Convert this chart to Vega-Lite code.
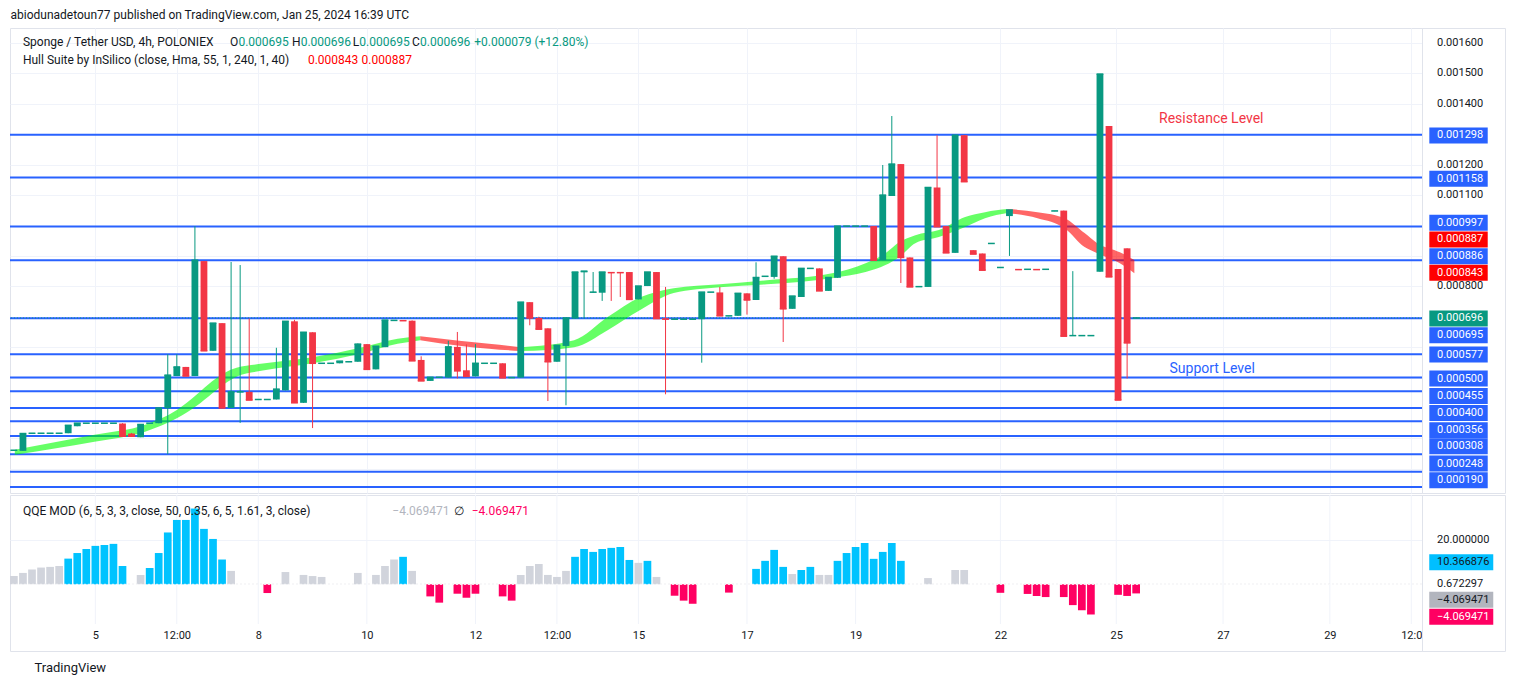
{
  "$schema": "https://vega.github.io/schema/vega-lite/v6.json",
  "padding": {"left": 8, "top": 8, "right": 10, "bottom": 4},
  "background": "white",
  "title": {"text": "abiodunadetoun77 published on TradingView.com, Jan 25, 2024 16:39 UTC", "anchor": "start", "fontSize": 12, "fontWeight": "normal", "font": "Roboto", "color": "#131722", "offset": 6, "dx": 2},
  "config": {"font": "Roboto", "view": {"stroke": "#E0E3EB"}},
  "datasets": {
    "candles": [
      {"i": -1, "o": 0.000260, "h": 0.000261, "l": 0.000260, "c": 0.000261},
      {"i": 0, "o": 0.000259, "h": 0.000316, "l": 0.000259, "c": 0.000316},
      {"i": 1, "o": 0.000316, "h": 0.000317, "l": 0.000316, "c": 0.000317},
      {"i": 2, "o": 0.000316, "h": 0.000317, "l": 0.000316, "c": 0.000317},
      {"i": 3, "o": 0.000316, "h": 0.000317, "l": 0.000316, "c": 0.000317},
      {"i": 4, "o": 0.000316, "h": 0.000317, "l": 0.000316, "c": 0.000317},
      {"i": 5, "o": 0.000317, "h": 0.000343, "l": 0.000317, "c": 0.000343},
      {"i": 6, "o": 0.000340, "h": 0.000350, "l": 0.000340, "c": 0.000350},
      {"i": 7, "o": 0.000349, "h": 0.000350, "l": 0.000349, "c": 0.000350},
      {"i": 8, "o": 0.000349, "h": 0.000350, "l": 0.000349, "c": 0.000350},
      {"i": 9, "o": 0.000349, "h": 0.000350, "l": 0.000349, "c": 0.000350},
      {"i": 10, "o": 0.000349, "h": 0.000350, "l": 0.000349, "c": 0.000350},
      {"i": 11, "o": 0.000349, "h": 0.000350, "l": 0.000307, "c": 0.000307},
      {"i": 12, "o": 0.000316, "h": 0.000318, "l": 0.000307, "c": 0.000307},
      {"i": 13, "o": 0.000304, "h": 0.000346, "l": 0.000304, "c": 0.000346},
      {"i": 14, "o": 0.000349, "h": 0.000350, "l": 0.000349, "c": 0.000350},
      {"i": 15, "o": 0.000350, "h": 0.000400, "l": 0.000350, "c": 0.000400},
      {"i": 16, "o": 0.000399, "h": 0.000577, "l": 0.000248, "c": 0.000508},
      {"i": 17, "o": 0.000505, "h": 0.000577, "l": 0.000505, "c": 0.000535},
      {"i": 18, "o": 0.000535, "h": 0.000535, "l": 0.000505, "c": 0.000505},
      {"i": 19, "o": 0.000505, "h": 0.000998, "l": 0.000505, "c": 0.000886},
      {"i": 20, "o": 0.000883, "h": 0.000883, "l": 0.000588, "c": 0.000588},
      {"i": 21, "o": 0.000588, "h": 0.000679, "l": 0.000588, "c": 0.000679},
      {"i": 22, "o": 0.000679, "h": 0.000679, "l": 0.000400, "c": 0.000400},
      {"i": 23, "o": 0.000400, "h": 0.000880, "l": 0.000400, "c": 0.000453},
      {"i": 24, "o": 0.000452, "h": 0.000870, "l": 0.000351, "c": 0.000453},
      {"i": 25, "o": 0.000453, "h": 0.000694, "l": 0.000426, "c": 0.000426},
      {"i": 26, "o": 0.000427, "h": 0.000428, "l": 0.000427, "c": 0.000428},
      {"i": 27, "o": 0.000427, "h": 0.000428, "l": 0.000427, "c": 0.000428},
      {"i": 28, "o": 0.000428, "h": 0.000598, "l": 0.000428, "c": 0.000462},
      {"i": 29, "o": 0.000458, "h": 0.000685, "l": 0.000458, "c": 0.000685},
      {"i": 30, "o": 0.000685, "h": 0.000690, "l": 0.000417, "c": 0.000417},
      {"i": 31, "o": 0.000417, "h": 0.000649, "l": 0.000417, "c": 0.000649},
      {"i": 32, "o": 0.000649, "h": 0.000649, "l": 0.000334, "c": 0.000547},
      {"i": 33, "o": 0.000546, "h": 0.000547, "l": 0.000546, "c": 0.000547},
      {"i": 34, "o": 0.000546, "h": 0.000547, "l": 0.000546, "c": 0.000547},
      {"i": 35, "o": 0.000547, "h": 0.000554, "l": 0.000547, "c": 0.000554},
      {"i": 36, "o": 0.000551, "h": 0.000552, "l": 0.000551, "c": 0.000552},
      {"i": 37, "o": 0.000552, "h": 0.000612, "l": 0.000552, "c": 0.000610},
      {"i": 38, "o": 0.000610, "h": 0.000610, "l": 0.000527, "c": 0.000527},
      {"i": 39, "o": 0.000527, "h": 0.000603, "l": 0.000527, "c": 0.000603},
      {"i": 40, "o": 0.000600, "h": 0.000689, "l": 0.000600, "c": 0.000689},
      {"i": 41, "o": 0.000687, "h": 0.000688, "l": 0.000687, "c": 0.000688},
      {"i": 42, "o": 0.000688, "h": 0.000688, "l": 0.000687, "c": 0.000687},
      {"i": 43, "o": 0.000687, "h": 0.000688, "l": 0.000555, "c": 0.000555},
      {"i": 44, "o": 0.000558, "h": 0.000570, "l": 0.000489, "c": 0.000489},
      {"i": 45, "o": 0.000489, "h": 0.000501, "l": 0.000489, "c": 0.000501},
      {"i": 46, "o": 0.000500, "h": 0.000501, "l": 0.000500, "c": 0.000501},
      {"i": 47, "o": 0.000500, "h": 0.000621, "l": 0.000500, "c": 0.000601},
      {"i": 48, "o": 0.000601, "h": 0.000650, "l": 0.000497, "c": 0.000522},
      {"i": 49, "o": 0.000524, "h": 0.000609, "l": 0.000504, "c": 0.000504},
      {"i": 50, "o": 0.000504, "h": 0.000610, "l": 0.000504, "c": 0.000547},
      {"i": 51, "o": 0.000546, "h": 0.000547, "l": 0.000546, "c": 0.000547},
      {"i": 52, "o": 0.000546, "h": 0.000547, "l": 0.000546, "c": 0.000547},
      {"i": 53, "o": 0.000547, "h": 0.000547, "l": 0.000499, "c": 0.000499},
      {"i": 54, "o": 0.000499, "h": 0.000500, "l": 0.000499, "c": 0.000500},
      {"i": 55, "o": 0.000500, "h": 0.000748, "l": 0.000500, "c": 0.000748},
      {"i": 56, "o": 0.000748, "h": 0.000748, "l": 0.000672, "c": 0.000696},
      {"i": 57, "o": 0.000696, "h": 0.000700, "l": 0.000659, "c": 0.000659},
      {"i": 58, "o": 0.000662, "h": 0.000662, "l": 0.000423, "c": 0.000552},
      {"i": 59, "o": 0.000552, "h": 0.000606, "l": 0.000552, "c": 0.000606},
      {"i": 60, "o": 0.000604, "h": 0.000696, "l": 0.000409, "c": 0.000696},
      {"i": 61, "o": 0.000694, "h": 0.000847, "l": 0.000694, "c": 0.000847},
      {"i": 62, "o": 0.000846, "h": 0.000850, "l": 0.000694, "c": 0.000850},
      {"i": 63, "o": 0.000779, "h": 0.000847, "l": 0.000779, "c": 0.000781},
      {"i": 64, "o": 0.000779, "h": 0.000847, "l": 0.000752, "c": 0.000847},
      {"i": 65, "o": 0.000847, "h": 0.000847, "l": 0.000752, "c": 0.000845},
      {"i": 66, "o": 0.000847, "h": 0.000847, "l": 0.000765, "c": 0.000845},
      {"i": 67, "o": 0.000847, "h": 0.000847, "l": 0.000757, "c": 0.000757},
      {"i": 68, "o": 0.000757, "h": 0.000801, "l": 0.000757, "c": 0.000801},
      {"i": 69, "o": 0.000801, "h": 0.000847, "l": 0.000801, "c": 0.000847},
      {"i": 70, "o": 0.000847, "h": 0.000847, "l": 0.000694, "c": 0.000694},
      {"i": 71, "o": 0.000694, "h": 0.000798, "l": 0.000445, "c": 0.000692},
      {"i": 72, "o": 0.000691, "h": 0.000692, "l": 0.000691, "c": 0.000692},
      {"i": 73, "o": 0.000691, "h": 0.000692, "l": 0.000691, "c": 0.000692},
      {"i": 74, "o": 0.000691, "h": 0.000692, "l": 0.000691, "c": 0.000692},
      {"i": 75, "o": 0.000692, "h": 0.000781, "l": 0.000549, "c": 0.000781},
      {"i": 76, "o": 0.000780, "h": 0.000781, "l": 0.000780, "c": 0.000781},
      {"i": 77, "o": 0.000780, "h": 0.000798, "l": 0.000703, "c": 0.000703},
      {"i": 78, "o": 0.000702, "h": 0.000703, "l": 0.000702, "c": 0.000703},
      {"i": 79, "o": 0.000703, "h": 0.000777, "l": 0.000703, "c": 0.000777},
      {"i": 80, "o": 0.000777, "h": 0.000777, "l": 0.000707, "c": 0.000755},
      {"i": 81, "o": 0.000755, "h": 0.000879, "l": 0.000755, "c": 0.000829},
      {"i": 82, "o": 0.000832, "h": 0.000833, "l": 0.000832, "c": 0.000833},
      {"i": 83, "o": 0.000831, "h": 0.000899, "l": 0.000825, "c": 0.000899},
      {"i": 84, "o": 0.000899, "h": 0.000899, "l": 0.000617, "c": 0.000726},
      {"i": 85, "o": 0.000726, "h": 0.000768, "l": 0.000726, "c": 0.000768},
      {"i": 86, "o": 0.000765, "h": 0.000859, "l": 0.000765, "c": 0.000859},
      {"i": 87, "o": 0.000858, "h": 0.000859, "l": 0.000858, "c": 0.000859},
      {"i": 88, "o": 0.000859, "h": 0.000859, "l": 0.000785, "c": 0.000785},
      {"i": 89, "o": 0.000785, "h": 0.000829, "l": 0.000785, "c": 0.000829},
      {"i": 90, "o": 0.000828, "h": 0.000998, "l": 0.000828, "c": 0.000998},
      {"i": 91, "o": 0.000997, "h": 0.000998, "l": 0.000997, "c": 0.000998},
      {"i": 92, "o": 0.000997, "h": 0.000998, "l": 0.000997, "c": 0.000998},
      {"i": 93, "o": 0.000997, "h": 0.000998, "l": 0.000997, "c": 0.000998},
      {"i": 94, "o": 0.000998, "h": 0.000998, "l": 0.000886, "c": 0.000886},
      {"i": 95, "o": 0.000886, "h": 0.001199, "l": 0.000886, "c": 0.001100},
      {"i": 96, "o": 0.001097, "h": 0.001360, "l": 0.001097, "c": 0.001202},
      {"i": 97, "o": 0.001202, "h": 0.001202, "l": 0.000811, "c": 0.000895},
      {"i": 98, "o": 0.000895, "h": 0.000895, "l": 0.000798, "c": 0.000798},
      {"i": 99, "o": 0.000798, "h": 0.000799, "l": 0.000798, "c": 0.000799},
      {"i": 100, "o": 0.000798, "h": 0.001125, "l": 0.000798, "c": 0.001125},
      {"i": 101, "o": 0.001125, "h": 0.001297, "l": 0.000996, "c": 0.000996},
      {"i": 102, "o": 0.000998, "h": 0.000998, "l": 0.000910, "c": 0.000910},
      {"i": 103, "o": 0.000910, "h": 0.001297, "l": 0.000910, "c": 0.001297},
      {"i": 104, "o": 0.001297, "h": 0.001297, "l": 0.001144, "c": 0.001144},
      {"i": 105, "o": 0.000919, "h": 0.000919, "l": 0.000906, "c": 0.000906},
      {"i": 106, "o": 0.000908, "h": 0.000908, "l": 0.000853, "c": 0.000853},
      {"i": 107, "o": 0.000940, "h": 0.000941, "l": 0.000940, "c": 0.000941},
      {"i": 108, "o": 0.000861, "h": 0.000862, "l": 0.000861, "c": 0.000862},
      {"i": 109, "o": 0.001031, "h": 0.001051, "l": 0.000900, "c": 0.001051},
      {"i": 110, "o": 0.000856, "h": 0.000856, "l": 0.000855, "c": 0.000855},
      {"i": 111, "o": 0.000855, "h": 0.000856, "l": 0.000855, "c": 0.000856},
      {"i": 112, "o": 0.000856, "h": 0.000856, "l": 0.000855, "c": 0.000855},
      {"i": 113, "o": 0.000855, "h": 0.000856, "l": 0.000855, "c": 0.000856},
      {"i": 114, "o": 0.001047, "h": 0.001048, "l": 0.001047, "c": 0.001048},
      {"i": 115, "o": 0.001049, "h": 0.001049, "l": 0.000636, "c": 0.000636},
      {"i": 116, "o": 0.000637, "h": 0.000850, "l": 0.000637, "c": 0.000638},
      {"i": 117, "o": 0.000637, "h": 0.000638, "l": 0.000637, "c": 0.000638},
      {"i": 118, "o": 0.000637, "h": 0.000638, "l": 0.000637, "c": 0.000638},
      {"i": 119, "o": 0.000848, "h": 0.001498, "l": 0.000848, "c": 0.001498},
      {"i": 120, "o": 0.001327, "h": 0.001327, "l": 0.000831, "c": 0.000831},
      {"i": 121, "o": 0.000857, "h": 0.000857, "l": 0.000426, "c": 0.000426},
      {"i": 122, "o": 0.000925, "h": 0.000925, "l": 0.000497, "c": 0.000614},
      {"i": 123, "o": 0.000695, "h": 0.000696, "l": 0.000695, "c": 0.000696}
    ],
    "hull": [
      {"i": -0.9, "hi": 0.000263, "lo": 0.000246, "seg": "g1", "trend": "up"},
      {"i": 7.9, "hi": 0.000312, "lo": 0.000289, "seg": "g1", "trend": "up"},
      {"i": 13.5, "hi": 0.000345, "lo": 0.000322, "seg": "g1", "trend": "up"},
      {"i": 17.0, "hi": 0.000393, "lo": 0.000366, "seg": "g1", "trend": "up"},
      {"i": 19.2, "hi": 0.000444, "lo": 0.000407, "seg": "g1", "trend": "up"},
      {"i": 20.9, "hi": 0.000488, "lo": 0.000448, "seg": "g1", "trend": "up"},
      {"i": 22.3, "hi": 0.000516, "lo": 0.000480, "seg": "g1", "trend": "up"},
      {"i": 23.6, "hi": 0.000532, "lo": 0.000503, "seg": "g1", "trend": "up"},
      {"i": 26.5, "hi": 0.000546, "lo": 0.000523, "seg": "g1", "trend": "up"},
      {"i": 32.0, "hi": 0.000567, "lo": 0.000547, "seg": "g1", "trend": "up"},
      {"i": 37.5, "hi": 0.000600, "lo": 0.000580, "seg": "g1", "trend": "up"},
      {"i": 41.4, "hi": 0.000628, "lo": 0.000611, "seg": "g1", "trend": "up"},
      {"i": 43.9, "hi": 0.000636, "lo": 0.000623, "seg": "g1", "trend": "up"},
      {"i": 43.9, "hi": 0.000636, "lo": 0.000623, "seg": "r1", "trend": "down"},
      {"i": 48.2, "hi": 0.000621, "lo": 0.000605, "seg": "r1", "trend": "down"},
      {"i": 51.5, "hi": 0.000611, "lo": 0.000595, "seg": "r1", "trend": "down"},
      {"i": 55.0, "hi": 0.000600, "lo": 0.000587, "seg": "r1", "trend": "down"},
      {"i": 55.0, "hi": 0.000600, "lo": 0.000587, "seg": "g2", "trend": "up"},
      {"i": 60.9, "hi": 0.000623, "lo": 0.000600, "seg": "g2", "trend": "up"},
      {"i": 64.6, "hi": 0.000699, "lo": 0.000656, "seg": "g2", "trend": "up"},
      {"i": 68.2, "hi": 0.000764, "lo": 0.000722, "seg": "g2", "trend": "up"},
      {"i": 71.9, "hi": 0.000794, "lo": 0.000778, "seg": "g2", "trend": "up"},
      {"i": 77.0, "hi": 0.000807, "lo": 0.000797, "seg": "g2", "trend": "up"},
      {"i": 82.2, "hi": 0.000820, "lo": 0.000807, "seg": "g2", "trend": "up"},
      {"i": 89.4, "hi": 0.000843, "lo": 0.000827, "seg": "g2", "trend": "up"},
      {"i": 93.1, "hi": 0.000876, "lo": 0.000847, "seg": "g2", "trend": "up"},
      {"i": 95.3, "hi": 0.000909, "lo": 0.000870, "seg": "g2", "trend": "up"},
      {"i": 96.8, "hi": 0.000945, "lo": 0.000896, "seg": "g2", "trend": "up"},
      {"i": 98.6, "hi": 0.000968, "lo": 0.000942, "seg": "g2", "trend": "up"},
      {"i": 101.2, "hi": 0.000985, "lo": 0.000962, "seg": "g2", "trend": "up"},
      {"i": 104.1, "hi": 0.001028, "lo": 0.000995, "seg": "g2", "trend": "up"},
      {"i": 106.3, "hi": 0.001044, "lo": 0.001024, "seg": "g2", "trend": "up"},
      {"i": 108.8, "hi": 0.001054, "lo": 0.001041, "seg": "g2", "trend": "up"},
      {"i": 108.8, "hi": 0.001054, "lo": 0.001041, "seg": "r2", "trend": "down"},
      {"i": 112.1, "hi": 0.001044, "lo": 0.001024, "seg": "r2", "trend": "down"},
      {"i": 115.1, "hi": 0.001024, "lo": 0.000991, "seg": "r2", "trend": "down"},
      {"i": 117.3, "hi": 0.000975, "lo": 0.000929, "seg": "r2", "trend": "down"},
      {"i": 118.7, "hi": 0.000942, "lo": 0.000909, "seg": "r2", "trend": "down"},
      {"i": 121.2, "hi": 0.000912, "lo": 0.000876, "seg": "r2", "trend": "down"},
      {"i": 122.8, "hi": 0.000887, "lo": 0.000843, "seg": "r2", "trend": "down"}
    ],
    "levels": [
      {"v": 0.001298}, {"v": 0.001158}, {"v": 0.000997}, {"v": 0.000886},
      {"v": 0.000695}, {"v": 0.000577}, {"v": 0.000500}, {"v": 0.000455},
      {"v": 0.000400}, {"v": 0.000356}, {"v": 0.000308}, {"v": 0.000248},
      {"v": 0.000190}, {"v": 0.000140}
    ],
    "last": [{"v": 0.000696}],
    "days": [
      {"i": 8}, {"i": 17}, {"i": 26}, {"i": 38}, {"i": 50}, {"i": 59}, {"i": 68},
      {"i": 80}, {"i": 92}, {"i": 108}, {"i": 120.8}, {"i": 132.6}, {"i": 144.4}, {"i": 153.4}
    ],
    "legend": [
      {"t": "Sponge / Tether USD, 4h, POLONIEX", "i": 0, "p": 0.0016033, "role": "label"},
      {"t": "O", "i": 22.87, "p": 0.0016033, "role": "label"},
      {"t": "0.000695", "i": 23.81, "p": 0.0016033, "role": "rise"},
      {"t": "H", "i": 29.72, "p": 0.0016033, "role": "label"},
      {"t": "0.000696", "i": 30.69, "p": 0.0016033, "role": "rise"},
      {"t": "L", "i": 36.43, "p": 0.0016033, "role": "label"},
      {"t": "0.000695", "i": 37.16, "p": 0.0016033, "role": "rise"},
      {"t": "C", "i": 43.0, "p": 0.0016033, "role": "label"},
      {"t": "0.000696", "i": 43.87, "p": 0.0016033, "role": "rise"},
      {"t": "+0.000079 (+12.80%)", "i": 49.87, "p": 0.0016033, "role": "rise"},
      {"t": "Hull Suite by InSilico (close, Hma, 55, 1, 240, 1, 40)", "i": 0, "p": 0.0015441, "role": "label"},
      {"t": "0.000843", "i": 31.49, "p": 0.0015441, "role": "hull"},
      {"t": "0.000887", "i": 37.41, "p": 0.0015441, "role": "hull"}
    ],
    "zones": [
      {"t": "Resistance Level", "i": 131.3, "p": 0.00135, "kind": "res"},
      {"t": "Support Level", "i": 131.4, "p": 0.0005275, "kind": "sup"}
    ],
    "pticks": [
      {"t": "0.001600", "at": 0.0016}, {"t": "0.001500", "at": 0.0015},
      {"t": "0.001400", "at": 0.0014}, {"t": "0.001200", "at": 0.0012},
      {"t": "0.001100", "at": 0.0011}, {"t": "0.000800", "at": 0.0008}
    ],
    "pboxes": [
      {"t": "0.001298", "at": 0.001296, "kind": "level"},
      {"t": "0.001158", "at": 0.0011535, "kind": "level"},
      {"t": "0.000997", "at": 0.0010088, "kind": "level"},
      {"t": "0.000887", "at": 0.0009542, "kind": "hull"},
      {"t": "0.000886", "at": 0.0008992, "kind": "level"},
      {"t": "0.000843", "at": 0.0008443, "kind": "hull"},
      {"t": "0.000696", "at": 0.0006943, "kind": "last"},
      {"t": "0.000695", "at": 0.0006393, "kind": "level"},
      {"t": "0.000577", "at": 0.0005758, "kind": "level"},
      {"t": "0.000500", "at": 0.0004969, "kind": "level"},
      {"t": "0.000455", "at": 0.0004396, "kind": "level"},
      {"t": "0.000400", "at": 0.0003837, "kind": "level"},
      {"t": "0.000356", "at": 0.0003268, "kind": "level"},
      {"t": "0.000308", "at": 0.0002741, "kind": "level"},
      {"t": "0.000248", "at": 0.0002172, "kind": "level"},
      {"t": "0.000190", "at": 0.0001623, "kind": "level"}
    ],
    "qqe": [
      {"i": -1, "v": 3.7, "s": "neutral"}, {"i": 0, "v": 5.1, "s": "neutral"},
      {"i": 1, "v": 6.6, "s": "neutral"}, {"i": 2, "v": 7.5, "s": "neutral"},
      {"i": 3, "v": 7.8, "s": "neutral"}, {"i": 4, "v": 8.2, "s": "neutral"},
      {"i": 5, "v": 11.5, "s": "bull"}, {"i": 6, "v": 14.0, "s": "bull"},
      {"i": 7, "v": 15.8, "s": "bull"}, {"i": 8, "v": 17.2, "s": "bull"},
      {"i": 9, "v": 17.6, "s": "bull"}, {"i": 10, "v": 18.1, "s": "bull"},
      {"i": 11, "v": 8.2, "s": "bull"}, {"i": 13, "v": 4.2, "s": "neutral"},
      {"i": 14, "v": 7.3, "s": "bull"}, {"i": 15, "v": 14.0, "s": "bull"},
      {"i": 16, "v": 23.2, "s": "bull"}, {"i": 17, "v": 28.8, "s": "bull"},
      {"i": 18, "v": 28.8, "s": "bull"}, {"i": 19, "v": 33.9, "s": "bull"},
      {"i": 20, "v": 24.8, "s": "bull"}, {"i": 21, "v": 20.3, "s": "bull"},
      {"i": 22, "v": 11.1, "s": "bull"}, {"i": 23, "v": 6.0, "s": "neutral"},
      {"i": 27, "v": -3.9, "s": "bear"}, {"i": 29, "v": 5.5, "s": "neutral"},
      {"i": 31, "v": 4.2, "s": "neutral"}, {"i": 32, "v": 3.7, "s": "neutral"},
      {"i": 33, "v": 3.3, "s": "neutral"}, {"i": 37, "v": 5.1, "s": "neutral"},
      {"i": 39, "v": 4.2, "s": "neutral"}, {"i": 40, "v": 8.2, "s": "neutral"},
      {"i": 41, "v": 11.1, "s": "neutral"}, {"i": 42, "v": 12.3, "s": "bull"},
      {"i": 43, "v": 6.0, "s": "neutral"}, {"i": 45, "v": -5.4, "s": "bear"},
      {"i": 46, "v": -8.2, "s": "bear"}, {"i": 48, "v": -4.2, "s": "bear"},
      {"i": 49, "v": -6.0, "s": "bear"}, {"i": 50, "v": -4.2, "s": "bear"},
      {"i": 53, "v": -5.4, "s": "bear"}, {"i": 54, "v": -7.3, "s": "bear"},
      {"i": 55, "v": 4.2, "s": "neutral"}, {"i": 56, "v": 8.2, "s": "neutral"},
      {"i": 57, "v": 9.1, "s": "neutral"}, {"i": 58, "v": 4.2, "s": "neutral"},
      {"i": 59, "v": 3.3, "s": "neutral"}, {"i": 60, "v": 6.0, "s": "neutral"},
      {"i": 61, "v": 12.3, "s": "bull"}, {"i": 62, "v": 15.8, "s": "bull"},
      {"i": 63, "v": 14.5, "s": "bull"}, {"i": 64, "v": 15.8, "s": "bull"},
      {"i": 65, "v": 16.3, "s": "bull"}, {"i": 66, "v": 16.7, "s": "bull"},
      {"i": 67, "v": 10.9, "s": "bull"}, {"i": 68, "v": 9.6, "s": "neutral"},
      {"i": 69, "v": 10.5, "s": "bull"}, {"i": 70, "v": 3.3, "s": "neutral"},
      {"i": 72, "v": -5.1, "s": "bear"}, {"i": 73, "v": -7.3, "s": "bear"},
      {"i": 74, "v": -8.7, "s": "bear"}, {"i": 78, "v": -3.7, "s": "bear"},
      {"i": 81, "v": 6.9, "s": "bull"}, {"i": 82, "v": 10.5, "s": "bull"},
      {"i": 83, "v": 15.4, "s": "bull"}, {"i": 84, "v": 7.8, "s": "bull"},
      {"i": 85, "v": 4.6, "s": "neutral"}, {"i": 86, "v": 6.4, "s": "bull"},
      {"i": 87, "v": 7.8, "s": "bull"}, {"i": 88, "v": 4.2, "s": "neutral"},
      {"i": 89, "v": 4.2, "s": "neutral"}, {"i": 90, "v": 10.5, "s": "bull"},
      {"i": 91, "v": 14.0, "s": "bull"}, {"i": 92, "v": 16.7, "s": "bull"},
      {"i": 93, "v": 18.5, "s": "bull"}, {"i": 94, "v": 11.4, "s": "bull"},
      {"i": 95, "v": 14.5, "s": "bull"}, {"i": 96, "v": 18.5, "s": "bull"},
      {"i": 97, "v": 10.5, "s": "bull"}, {"i": 100, "v": 2.8, "s": "neutral"},
      {"i": 103, "v": 6.4, "s": "neutral"}, {"i": 104, "v": 6.4, "s": "neutral"},
      {"i": 108, "v": -3.8, "s": "bear"}, {"i": 111, "v": -4.3, "s": "bear"},
      {"i": 112, "v": -5.2, "s": "bear"}, {"i": 113, "v": -5.7, "s": "bear"},
      {"i": 115, "v": -5.7, "s": "bear"}, {"i": 116, "v": -9.3, "s": "bear"},
      {"i": 117, "v": -11.6, "s": "bear"}, {"i": 118, "v": -13.5, "s": "bear"},
      {"i": 121, "v": -4.7, "s": "bear"}, {"i": 122, "v": -5.2, "s": "bear"},
      {"i": 123, "v": -4.07, "s": "bear"}
    ],
    "zero": [{"v": 0}],
    "qlegend": [
      {"t": "QQE MOD (6, 5, 3, 3, close, 50, 0.35, 6, 5, 1.61, 3, close)", "i": 0, "q": 32.66, "role": "label"},
      {"t": "−4.069471", "i": 40.81, "q": 32.66, "role": "neutral"},
      {"t": "∅", "i": 47.61, "q": 32.66, "role": "label"},
      {"t": "−4.069471", "i": 49.59, "q": 32.66, "role": "bear"}
    ],
    "qticks": [
      {"t": "20.000000", "at": 20}, {"t": "0.672297", "at": 0.15}
    ],
    "qboxes": [
      {"t": "10.366876", "at": 9.84, "kind": "bull"},
      {"t": "−4.069471", "at": -6.94, "kind": "neutral"},
      {"t": "−4.069471", "at": -14.54, "kind": "bear"}
    ]
  },
  "vconcat": [
    {
      "hconcat": [
        {
          "width": 1412,
          "height": 465,
          "layer": [
            {
              "data": {"name": "levels"},
              "mark": {"type": "rule", "color": "#2962FF", "strokeWidth": 2},
              "encoding": {
                "y": {"field": "v", "type": "quantitative", "scale": {"domain": [0.0001205, 0.0016494], "nice": false, "zero": false},
                  "axis": {"orient": "right", "values": [0.0002, 0.0003, 0.0004, 0.0005, 0.0006, 0.0007, 0.0008, 0.0009, 0.001, 0.0011, 0.0012, 0.0013, 0.0014, 0.0015, 0.0016], "labels": false, "ticks": false, "domain": false, "grid": true, "gridColor": "#F0F3FA", "title": null}}
              }
            },
            {
              "data": {"name": "last"},
              "mark": {"type": "rule", "color": "#089981", "strokeWidth": 1, "strokeDash": [1, 2]},
              "encoding": {
                "y": {"field": "v", "type": "quantitative", "scale": {"domain": [0.0001205, 0.0016494], "nice": false, "zero": false},
                  "axis": {"orient": "right", "values": [0.0002, 0.0003, 0.0004, 0.0005, 0.0006, 0.0007, 0.0008, 0.0009, 0.001, 0.0011, 0.0012, 0.0013, 0.0014, 0.0015, 0.0016], "labels": false, "ticks": false, "domain": false, "grid": true, "gridColor": "#F0F3FA", "title": null}}
              }
            },
            {
              "data": {"name": "hull"},
              "mark": {"type": "area", "interpolate": "monotone", "opacity": 0.6, "clip": true},
              "encoding": {
                "x": {"field": "i", "type": "quantitative", "scale": {"domain": [-0.878, 154.03], "nice": false, "zero": false},
                  "axis": {"orient": "top", "values": [8, 17, 26, 38, 50, 59, 68, 80, 92, 108, 120.8, 132.6, 144.4, 153.4], "labels": false, "ticks": false, "domain": false, "grid": true, "gridColor": "#F0F3FA", "title": null}},
                "y": {"field": "hi", "type": "quantitative", "scale": {"domain": [0.0001205, 0.0016494], "nice": false, "zero": false},
                  "axis": {"orient": "right", "values": [0.0002, 0.0003, 0.0004, 0.0005, 0.0006, 0.0007, 0.0008, 0.0009, 0.001, 0.0011, 0.0012, 0.0013, 0.0014, 0.0015, 0.0016], "labels": false, "ticks": false, "domain": false, "grid": true, "gridColor": "#F0F3FA", "title": null}},
                "y2": {"field": "lo"},
                "detail": {"field": "seg"},
                "color": {"field": "trend", "type": "nominal", "scale": {"domain": ["up", "down"], "range": ["#00FF00", "#FF0000"]}, "legend": null}
              }
            },
            {
              "data": {"name": "candles"},
              "mark": {"type": "rule", "strokeWidth": 1, "clip": true},
              "encoding": {
                "x": {"field": "i", "type": "quantitative", "scale": {"domain": [-0.878, 154.03], "nice": false, "zero": false},
                  "axis": {"orient": "top", "values": [8, 17, 26, 38, 50, 59, 68, 80, 92, 108, 120.8, 132.6, 144.4, 153.4], "labels": false, "ticks": false, "domain": false, "grid": true, "gridColor": "#F0F3FA", "title": null}},
                "y": {"field": "l", "type": "quantitative", "scale": {"domain": [0.0001205, 0.0016494], "nice": false, "zero": false},
                  "axis": {"orient": "right", "values": [0.0002, 0.0003, 0.0004, 0.0005, 0.0006, 0.0007, 0.0008, 0.0009, 0.001, 0.0011, 0.0012, 0.0013, 0.0014, 0.0015, 0.0016], "labels": false, "ticks": false, "domain": false, "grid": true, "gridColor": "#F0F3FA", "title": null}},
                "y2": {"field": "h"},
                "color": {"condition": {"test": "datum.c >= datum.o", "value": "#089981"}, "value": "#F23645"}
              }
            },
            {
              "data": {"name": "candles"},
              "mark": {"type": "bar", "size": 6.8, "clip": true},
              "encoding": {
                "x": {"field": "i", "type": "quantitative", "scale": {"domain": [-0.878, 154.03], "nice": false, "zero": false},
                  "axis": {"orient": "top", "values": [8, 17, 26, 38, 50, 59, 68, 80, 92, 108, 120.8, 132.6, 144.4, 153.4], "labels": false, "ticks": false, "domain": false, "grid": true, "gridColor": "#F0F3FA", "title": null}},
                "y": {"field": "o", "type": "quantitative", "scale": {"domain": [0.0001205, 0.0016494], "nice": false, "zero": false},
                  "axis": {"orient": "right", "values": [0.0002, 0.0003, 0.0004, 0.0005, 0.0006, 0.0007, 0.0008, 0.0009, 0.001, 0.0011, 0.0012, 0.0013, 0.0014, 0.0015, 0.0016], "labels": false, "ticks": false, "domain": false, "grid": true, "gridColor": "#F0F3FA", "title": null}},
                "y2": {"field": "c"},
                "color": {"condition": {"test": "datum.c >= datum.o", "value": "#089981"}, "value": "#F23645"}
              }
            },
            {
              "data": {"name": "candles"},
              "mark": {"type": "tick", "orient": "horizontal", "size": 6.8, "thickness": 1.5, "opacity": 1, "clip": true},
              "encoding": {
                "x": {"field": "i", "type": "quantitative", "scale": {"domain": [-0.878, 154.03], "nice": false, "zero": false},
                  "axis": {"orient": "top", "values": [8, 17, 26, 38, 50, 59, 68, 80, 92, 108, 120.8, 132.6, 144.4, 153.4], "labels": false, "ticks": false, "domain": false, "grid": true, "gridColor": "#F0F3FA", "title": null}},
                "y": {"field": "c", "type": "quantitative", "scale": {"domain": [0.0001205, 0.0016494], "nice": false, "zero": false},
                  "axis": {"orient": "right", "values": [0.0002, 0.0003, 0.0004, 0.0005, 0.0006, 0.0007, 0.0008, 0.0009, 0.001, 0.0011, 0.0012, 0.0013, 0.0014, 0.0015, 0.0016], "labels": false, "ticks": false, "domain": false, "grid": true, "gridColor": "#F0F3FA", "title": null}},
                "color": {"condition": {"test": "datum.c >= datum.o", "value": "#089981"}, "value": "#F23645"}
              }
            },
            {
              "data": {"name": "legend"},
              "mark": {"type": "text", "align": "left", "baseline": "middle", "fontSize": 12, "font": "Roboto"},
              "encoding": {
                "x": {"field": "i", "type": "quantitative", "scale": {"domain": [-0.878, 154.03], "nice": false, "zero": false},
                  "axis": {"orient": "top", "values": [8, 17, 26, 38, 50, 59, 68, 80, 92, 108, 120.8, 132.6, 144.4, 153.4], "labels": false, "ticks": false, "domain": false, "grid": true, "gridColor": "#F0F3FA", "title": null}},
                "y": {"field": "p", "type": "quantitative", "scale": {"domain": [0.0001205, 0.0016494], "nice": false, "zero": false},
                  "axis": {"orient": "right", "values": [0.0002, 0.0003, 0.0004, 0.0005, 0.0006, 0.0007, 0.0008, 0.0009, 0.001, 0.0011, 0.0012, 0.0013, 0.0014, 0.0015, 0.0016], "labels": false, "ticks": false, "domain": false, "grid": true, "gridColor": "#F0F3FA", "title": null}},
                "text": {"field": "t"},
                "color": {"field": "role", "type": "nominal", "scale": {"domain": ["label", "rise", "hull"], "range": ["#131722", "#089981", "#FF0000"]}, "legend": null}
              }
            },
            {
              "data": {"name": "zones"},
              "mark": {"type": "text", "align": "center", "baseline": "middle", "fontSize": 14, "font": "Roboto"},
              "encoding": {
                "x": {"field": "i", "type": "quantitative", "scale": {"domain": [-0.878, 154.03], "nice": false, "zero": false},
                  "axis": {"orient": "top", "values": [8, 17, 26, 38, 50, 59, 68, 80, 92, 108, 120.8, 132.6, 144.4, 153.4], "labels": false, "ticks": false, "domain": false, "grid": true, "gridColor": "#F0F3FA", "title": null}},
                "y": {"field": "p", "type": "quantitative", "scale": {"domain": [0.0001205, 0.0016494], "nice": false, "zero": false},
                  "axis": {"orient": "right", "values": [0.0002, 0.0003, 0.0004, 0.0005, 0.0006, 0.0007, 0.0008, 0.0009, 0.001, 0.0011, 0.0012, 0.0013, 0.0014, 0.0015, 0.0016], "labels": false, "ticks": false, "domain": false, "grid": true, "gridColor": "#F0F3FA", "title": null}},
                "text": {"field": "t"},
                "color": {"field": "kind", "type": "nominal", "scale": {"domain": ["res", "sup"], "range": ["#F23645", "#2962FF"]}, "legend": null}
              }
            }
          ],
          "resolve": {"scale": {"color": "independent"}}
        },
        {
          "width": 83,
          "height": 465,
          "layer": [
            {
              "data": {"name": "pticks"},
              "mark": {"type": "text", "align": "left", "baseline": "middle", "fontSize": 11, "font": "Roboto", "color": "#131722"},
              "encoding": {
                "x": {"datum": 0.181, "type": "quantitative", "scale": {"domain": [0, 1]}, "axis": null},
                "y": {"field": "at", "type": "quantitative", "scale": {"domain": [0.0001205, 0.0016494], "nice": false, "zero": false}, "axis": null},
                "text": {"field": "t"}
              }
            },
            {
              "data": {"name": "pboxes"},
              "mark": {"type": "point", "shape": "M-1,-0.274L1,-0.274L1,0.274L-1,0.274Z", "size": 3411, "filled": true, "opacity": 1, "strokeWidth": 0},
              "encoding": {
                "x": {"datum": 0.44, "type": "quantitative", "scale": {"domain": [0, 1]}, "axis": null},
                "y": {"field": "at", "type": "quantitative", "scale": {"domain": [0.0001205, 0.0016494], "nice": false, "zero": false}, "axis": null},
                "color": {"field": "kind", "type": "nominal", "scale": {"domain": ["level", "hull", "last"], "range": ["#2962FF", "#FF0000", "#089981"]}, "legend": null}
              }
            },
            {
              "data": {"name": "pboxes"},
              "mark": {"type": "text", "align": "left", "baseline": "middle", "fontSize": 11, "font": "Roboto", "color": "#FFFFFF"},
              "encoding": {
                "x": {"datum": 0.181, "type": "quantitative", "scale": {"domain": [0, 1]}, "axis": null},
                "y": {"field": "at", "type": "quantitative", "scale": {"domain": [0.0001205, 0.0016494], "nice": false, "zero": false}, "axis": null},
                "text": {"field": "t"}
              }
            }
          ]
        }
      ],
      "spacing": 0,
      "bounds": "flush",
      "resolve": {"scale": {"color": "independent"}}
    },
    {
      "hconcat": [
        {
          "width": 1412,
          "height": 156,
          "title": {"text": "TradingView", "orient": "bottom", "anchor": "start", "fontSize": 13, "fontWeight": "normal", "font": "Roboto", "color": "#131722", "dx": 25, "offset": 11},
          "layer": [
            {
              "data": {"name": "days"},
              "mark": {"type": "rule", "color": "#F0F3FA", "strokeWidth": 1},
              "encoding": {
                "x": {"field": "i", "type": "quantitative", "scale": {"domain": [-0.878, 154.03], "nice": false, "zero": false},
                  "axis": {"orient": "bottom", "values": [8, 17, 26, 38, 50, 59, 68, 80, 92, 108, 120.8, 132.6, 144.4, 153.4],
                    "labelExpr": "datum.value == 8 ? '5' : datum.value == 17 ? '12:00' : datum.value == 26 ? '8' : datum.value == 38 ? '10' : datum.value == 50 ? '12' : datum.value == 59 ? '12:00' : datum.value == 68 ? '15' : datum.value == 80 ? '17' : datum.value == 92 ? '19' : datum.value == 108 ? '22' : datum.value == 120.8 ? '25' : datum.value == 132.6 ? '27' : datum.value == 144.4 ? '29' : '12:0'",
                    "labelFlush": false, "labelOverlap": false, "labelFont": "Roboto", "labelFontSize": 11, "labelColor": "#131722", "labelPadding": -22,
                    "ticks": false, "domain": false, "grid": false, "title": null}},
                "y": {"datum": 39.96, "type": "quantitative", "scale": {"domain": [-29.83, 39.96], "nice": false, "zero": false},
                  "axis": {"orient": "right", "values": [20], "labels": false, "ticks": false, "domain": false, "grid": true, "gridColor": "#F0F3FA", "title": null}},
                "y2": {"datum": -17.76}
              }
            },
            {
              "data": {"name": "zero"},
              "mark": {"type": "rule", "color": "#C8CBD3", "strokeWidth": 1, "strokeDash": [2, 2]},
              "encoding": {
                "y": {"field": "v", "type": "quantitative", "scale": {"domain": [-29.83, 39.96], "nice": false, "zero": false},
                  "axis": {"orient": "right", "values": [20], "labels": false, "ticks": false, "domain": false, "grid": true, "gridColor": "#F0F3FA", "title": null}}
              }
            },
            {
              "data": {"name": "qqe"},
              "mark": {"type": "bar", "size": 7.7, "clip": true},
              "encoding": {
                "x": {"field": "i", "type": "quantitative", "scale": {"domain": [-0.878, 154.03], "nice": false, "zero": false},
                  "axis": {"orient": "bottom", "values": [8, 17, 26, 38, 50, 59, 68, 80, 92, 108, 120.8, 132.6, 144.4, 153.4],
                    "labelExpr": "datum.value == 8 ? '5' : datum.value == 17 ? '12:00' : datum.value == 26 ? '8' : datum.value == 38 ? '10' : datum.value == 50 ? '12' : datum.value == 59 ? '12:00' : datum.value == 68 ? '15' : datum.value == 80 ? '17' : datum.value == 92 ? '19' : datum.value == 108 ? '22' : datum.value == 120.8 ? '25' : datum.value == 132.6 ? '27' : datum.value == 144.4 ? '29' : '12:0'",
                    "labelFlush": false, "labelOverlap": false, "labelFont": "Roboto", "labelFontSize": 11, "labelColor": "#131722", "labelPadding": -22,
                    "ticks": false, "domain": false, "grid": false, "title": null}},
                "y": {"field": "v", "type": "quantitative", "scale": {"domain": [-29.83, 39.96], "nice": false, "zero": false},
                  "axis": {"orient": "right", "values": [20], "labels": false, "ticks": false, "domain": false, "grid": true, "gridColor": "#F0F3FA", "title": null}},
                "y2": {"datum": 0},
                "color": {"field": "s", "type": "nominal", "scale": {"domain": ["bull", "neutral", "bear"], "range": ["#00C3FF", "#D1D4DC", "#FF0062"]}, "legend": null}
              }
            },
            {
              "data": {"name": "zero"},
              "mark": {"type": "rule", "color": "#FFFFFF", "strokeWidth": 1, "strokeDash": [2, 2]},
              "encoding": {
                "y": {"field": "v", "type": "quantitative", "scale": {"domain": [-29.83, 39.96], "nice": false, "zero": false},
                  "axis": {"orient": "right", "values": [20], "labels": false, "ticks": false, "domain": false, "grid": true, "gridColor": "#F0F3FA", "title": null}}
              }
            },
            {
              "data": {"name": "qlegend"},
              "mark": {"type": "text", "align": "left", "baseline": "middle", "fontSize": 12, "font": "Roboto"},
              "encoding": {
                "x": {"field": "i", "type": "quantitative", "scale": {"domain": [-0.878, 154.03], "nice": false, "zero": false},
                  "axis": {"orient": "bottom", "values": [8, 17, 26, 38, 50, 59, 68, 80, 92, 108, 120.8, 132.6, 144.4, 153.4],
                    "labelExpr": "datum.value == 8 ? '5' : datum.value == 17 ? '12:00' : datum.value == 26 ? '8' : datum.value == 38 ? '10' : datum.value == 50 ? '12' : datum.value == 59 ? '12:00' : datum.value == 68 ? '15' : datum.value == 80 ? '17' : datum.value == 92 ? '19' : datum.value == 108 ? '22' : datum.value == 120.8 ? '25' : datum.value == 132.6 ? '27' : datum.value == 144.4 ? '29' : '12:0'",
                    "labelFlush": false, "labelOverlap": false, "labelFont": "Roboto", "labelFontSize": 11, "labelColor": "#131722", "labelPadding": -22,
                    "ticks": false, "domain": false, "grid": false, "title": null}},
                "y": {"field": "q", "type": "quantitative", "scale": {"domain": [-29.83, 39.96], "nice": false, "zero": false},
                  "axis": {"orient": "right", "values": [20], "labels": false, "ticks": false, "domain": false, "grid": true, "gridColor": "#F0F3FA", "title": null}},
                "text": {"field": "t"},
                "color": {"field": "role", "type": "nominal", "scale": {"domain": ["label", "neutral", "bear"], "range": ["#131722", "#B2B5BE", "#FF0062"]}, "legend": null}
              }
            }
          ],
          "resolve": {"scale": {"color": "independent"}}
        },
        {
          "width": 83,
          "height": 156,
          "layer": [
            {
              "data": {"name": "qticks"},
              "mark": {"type": "text", "align": "left", "baseline": "middle", "fontSize": 11, "font": "Roboto", "color": "#131722"},
              "encoding": {
                "x": {"datum": 0.181, "type": "quantitative", "scale": {"domain": [0, 1]}, "axis": null},
                "y": {"field": "at", "type": "quantitative", "scale": {"domain": [-29.83, 39.96], "nice": false, "zero": false}, "axis": null},
                "text": {"field": "t"}
              }
            },
            {
              "data": {"name": "qboxes"},
              "mark": {"type": "point", "shape": "M-1,-0.25L1,-0.25L1,0.25L-1,0.25Z", "size": 4096, "filled": true, "opacity": 1, "strokeWidth": 0},
              "encoding": {
                "x": {"datum": 0.473, "type": "quantitative", "scale": {"domain": [0, 1]}, "axis": null},
                "y": {"field": "at", "type": "quantitative", "scale": {"domain": [-29.83, 39.96], "nice": false, "zero": false}, "axis": null},
                "color": {"field": "kind", "type": "nominal", "scale": {"domain": ["bull", "neutral", "bear"], "range": ["#00BFFF", "#B2B5BE", "#FF0062"]}, "legend": null}
              }
            },
            {
              "data": {"name": "qboxes"},
              "mark": {"type": "text", "align": "left", "baseline": "middle", "fontSize": 11, "font": "Roboto"},
              "encoding": {
                "x": {"datum": 0.181, "type": "quantitative", "scale": {"domain": [0, 1]}, "axis": null},
                "y": {"field": "at", "type": "quantitative", "scale": {"domain": [-29.83, 39.96], "nice": false, "zero": false}, "axis": null},
                "text": {"field": "t"},
                "color": {"condition": {"test": "datum.kind == 'bear'", "value": "#FFFFFF"}, "value": "#131722"}
              }
            }
          ]
        }
      ],
      "spacing": 0,
      "bounds": "flush",
      "resolve": {"scale": {"color": "independent"}}
    }
  ],
  "spacing": 0,
  "resolve": {"scale": {"color": "independent"}}
}
